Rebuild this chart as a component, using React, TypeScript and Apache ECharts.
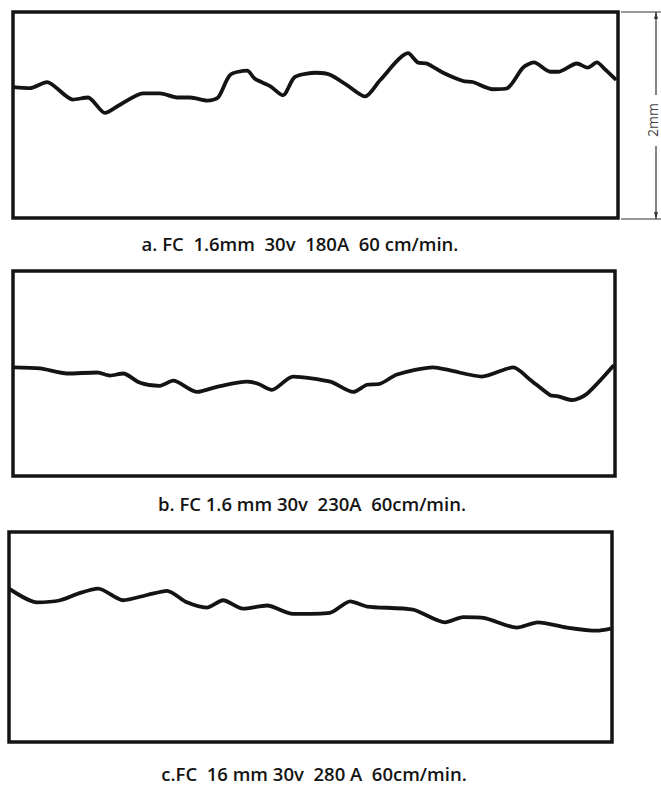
import React, { useEffect, useRef } from "react";
import * as echarts from "echarts";

// Profile a: FC 1.6mm 30v 180A 60 cm/min (x: distance units 0-100, y: height in mm 0-2)
const profileAX = [0, 2.8, 5.6, 9.9, 12.4, 15.2, 17.7, 21.5, 24.3, 27.1, 29.3, 32.2, 33.9, 35.9, 38.7, 40.0, 42.5, 44.6, 46.6, 50.2, 52.4, 55.2, 58.2, 60.7, 65.3, 66.9, 68.4, 71.1, 74.4, 76.0, 79.3, 81.7, 84.3, 86.1, 88.8, 90.1, 93.2, 95.0, 96.5, 97.9, 99.7];
const profileAY = [1.27, 1.26, 1.32, 1.15, 1.17, 1.02, 1.10, 1.21, 1.21, 1.17, 1.17, 1.14, 1.17, 1.39, 1.43, 1.35, 1.28, 1.19, 1.37, 1.41, 1.39, 1.29, 1.18, 1.34, 1.60, 1.51, 1.50, 1.41, 1.33, 1.32, 1.25, 1.26, 1.46, 1.51, 1.42, 1.42, 1.50, 1.46, 1.51, 1.44, 1.34];

// Profile b: FC 1.6 mm 30v 230A 60cm/min
const profileBX = [0, 4.5, 9.0, 14.0, 16.1, 18.3, 21.1, 24.4, 26.6, 30.6, 33.9, 38.9, 40.7, 43.0, 46.5, 52.7, 56.5, 58.8, 61.0, 63.8, 69.8, 72.6, 77.9, 83.1, 85.9, 89.2, 90.4, 92.9, 95.3, 99.8];
const profileBY = [1.06, 1.05, 1.00, 1.01, 0.98, 1.00, 0.91, 0.88, 0.93, 0.82, 0.87, 0.92, 0.90, 0.84, 0.97, 0.92, 0.82, 0.89, 0.90, 0.99, 1.06, 1.03, 0.97, 1.06, 0.94, 0.79, 0.78, 0.74, 0.80, 1.08];

// Profile c: FC 16 mm 30v 280 A 60cm/min
const profileCX = [0, 4.6, 8.5, 11.8, 14.8, 18.9, 22.9, 26.2, 29.5, 32.8, 35.5, 38.8, 42.8, 47.1, 53.2, 56.6, 59.4, 67.0, 72.3, 75.3, 78.9, 84.2, 87.7, 92.5, 97.5, 99.8];
const profileCY = [1.46, 1.33, 1.35, 1.42, 1.46, 1.35, 1.40, 1.44, 1.33, 1.28, 1.35, 1.27, 1.30, 1.22, 1.23, 1.34, 1.29, 1.26, 1.14, 1.19, 1.18, 1.09, 1.14, 1.09, 1.06, 1.08];

const captions = [
  "a. FC  1.6mm  30v  180A  60 cm/min.",
  "b. FC 1.6 mm 30v  230A  60cm/min.",
  "c.FC  16 mm 30v  280 A  60cm/min.",
];
const scaleLabel = "2mm";

const grids = [
  { left: 13, top: 12, width: 605, height: 206 },
  { left: 13, top: 271, width: 602, height: 205 },
  { left: 9, top: 532, width: 603, height: 210 },
];

const captionPos = [
  [300, 243],
  [312, 503],
  [314, 773],
];

export default function App() {
  const ref = useRef<HTMLDivElement>(null);
  useEffect(() => {
    if (!ref.current) return;
    const chart = echarts.init(ref.current, null, { renderer: "svg" });
    const profiles = [
      [profileAX, profileAY],
      [profileBX, profileBY],
      [profileCX, profileCY],
    ];
    const ink = "#141414";
    const option: any = {
      animation: false,
      backgroundColor: "#ffffff",
      grid: grids.map((g) => ({
        ...g,
        show: true,
        borderColor: ink,
        borderWidth: 3.5,
        backgroundColor: "transparent",
      })),
      xAxis: grids.map((_, i) => ({
        type: "value",
        gridIndex: i,
        min: 0,
        max: 100,
        show: false,
      })),
      yAxis: grids.map((_, i) => ({
        type: "value",
        gridIndex: i,
        min: 0,
        max: 2,
        show: false,
      })),
      series: profiles.map(([xs, ys], i) => ({
        type: "line",
        xAxisIndex: i,
        yAxisIndex: i,
        data: xs.map((x, j) => [x, ys[j]]),
        smooth: 0.25,
        showSymbol: false,
        symbol: "none",
        lineStyle: { color: ink, width: 3.8 },
        z: 3,
      })),
      graphic: [
        ...captions.map((c, i) => ({
          type: "text",
          x: captionPos[i][0],
          y: captionPos[i][1],
          style: {
            text: c,
            fontFamily: "Open Sans",
            fontSize: 18.5,
            fontWeight: 600,
            fill: ink,
            align: "center",
            verticalAlign: "middle",
          },
        })),
        // scale marker on the right of panel a
        { type: "line", shape: { x1: 621, y1: 12, x2: 661, y2: 12 }, style: { stroke: "#333", lineWidth: 1.2 } },
        { type: "line", shape: { x1: 621, y1: 219, x2: 661, y2: 219 }, style: { stroke: "#333", lineWidth: 1.2 } },
        { type: "line", shape: { x1: 656, y1: 12, x2: 656, y2: 95 }, style: { stroke: "#333", lineWidth: 1.2 } },
        { type: "line", shape: { x1: 656, y1: 146, x2: 656, y2: 219 }, style: { stroke: "#333", lineWidth: 1.2 } },
        { type: "polygon", shape: { points: [[656, 12], [654, 19], [658, 19]] }, style: { fill: "#333" } },
        { type: "polygon", shape: { points: [[656, 219], [654, 212], [658, 212]] }, style: { fill: "#333" } },
        {
          type: "text",
          x: 652,
          y: 120,
          rotation: Math.PI / 2,
          style: {
            text: scaleLabel,
            fontFamily: "Open Sans",
            fontSize: 14,
            fill: "#444",
            align: "center",
            verticalAlign: "middle",
          },
        },
      ],
    };
    chart.setOption(option);
    return () => chart.dispose();
  }, []);
  return (
    <div
      ref={ref}
      style={{ position: "absolute", left: 0, top: 0, width: 661, height: 785 }}
    />
  );
}
